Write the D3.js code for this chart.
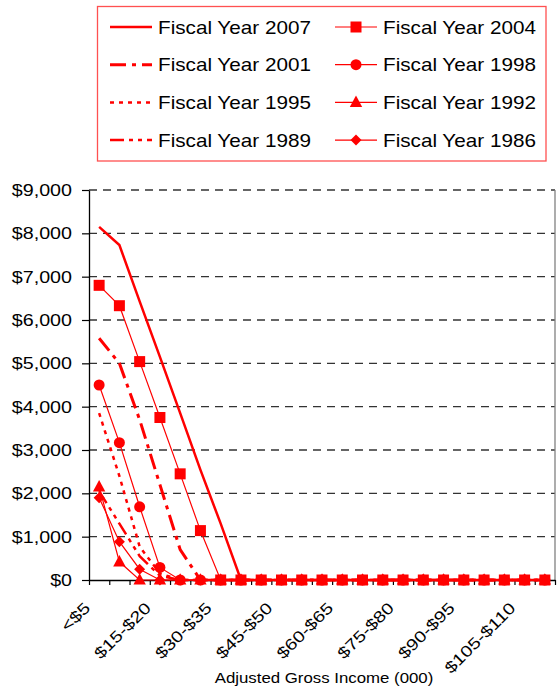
<!DOCTYPE html>
<html>
<head>
<meta charset="utf-8">
<script src="https://cdn.jsdelivr.net/npm/d3@7"></script>
<style>
  html, body { margin: 0; padding: 0; background: #fff; }
  svg { display: block; }
  text { font-family: "Liberation Sans", Arial, sans-serif; fill: #000; }
</style>
</head>
<body>
<svg id="chart" width="559" height="690"></svg>
<script>
// Income brackets (thousands of dollars)
const categories = ["<$5", "$5-$10", "$10-$15", "$15-$20", "$20-$25", "$25-$30", "$30-$35",
  "$35-$40", "$40-$45", "$45-$50", "$50-$55", "$55-$60", "$60-$65", "$65-$70", "$70-$75",
  "$75-$80", "$80-$85", "$85-$90", "$90-$95", "$95-$100", "$100-$105", "$105-$110", ">$110"];

// Maximum benefit by bracket, one array per fiscal year
const fy2007 = [8150, 7730, 6430, 5150, 3850, 2540, 1300, 0, 0, 0, 0, 0, 0, 0, 0, 0, 0, 0, 0, 0, 0, 0, 0];
const fy2004 = [6800, 6330, 5040, 3750, 2450, 1140, 0, 0, 0, 0, 0, 0, 0, 0, 0, 0, 0, 0, 0, 0, 0, 0, 0];
const fy2001 = [5580, 5000, 3700, 2200, 700, 0, 0, 0, 0, 0, 0, 0, 0, 0, 0, 0, 0, 0, 0, 0, 0, 0, 0];
const fy1998 = [4500, 3170, 1690, 290, 0, 0, 0, 0, 0, 0, 0, 0, 0, 0, 0, 0, 0, 0, 0, 0, 0, 0, 0];
const fy1995 = [3850, 2400, 770, 150, 0, 0, 0, 0, 0, 0, 0, 0, 0, 0, 0, 0, 0, 0, 0, 0, 0, 0, 0];
const fy1992 = [2150, 420, 0, 0, 0, 0, 0, 0, 0, 0, 0, 0, 0, 0, 0, 0, 0, 0, 0, 0, 0, 0, 0];
const fy1989 = [2050, 1300, 550, 100, 0, 0, 0, 0, 0, 0, 0, 0, 0, 0, 0, 0, 0, 0, 0, 0, 0, 0, 0];
const fy1986 = [1900, 885, 250, 0, 0, 0, 0, 0, 0, 0, 0, 0, 0, 0, 0, 0, 0, 0, 0, 0, 0, 0, 0];

const seriesNames = ["Fiscal Year 2007", "Fiscal Year 2004", "Fiscal Year 2001", "Fiscal Year 1998",
  "Fiscal Year 1995", "Fiscal Year 1992", "Fiscal Year 1989", "Fiscal Year 1986"];
const seriesValues = [fy2007, fy2004, fy2001, fy1998, fy1995, fy1992, fy1989, fy1986];

const yTicks = [0, 1000, 2000, 3000, 4000, 5000, 6000, 7000, 8000, 9000];
const xTitle = "Adjusted Gross Income (000)";

// Drawing styles for each series (same order as the names above)
const RED = "#ff0000";
const styles = [
  { width: 2.5, dash: null, marker: null },
  { width: 1.2, dash: null, marker: "square" },
  { width: 3, dash: "16,6,4,6", marker: null },
  { width: 1.2, dash: null, marker: "circle" },
  { width: 2.5, dash: "4,5", marker: null },
  { width: 1.2, dash: null, marker: "triangle" },
  { width: 2.5, dash: "14,5,4,5,4,5", marker: null },
  { width: 1.2, dash: null, marker: "diamond" }
];

const svg = d3.select("#chart");
const plot = { left: 89, right: 555, top: 190, bottom: 580 };

const x = d3.scaleBand().domain(categories).range([plot.left, plot.right]).padding(0);
const xEdge = d3.scaleLinear().domain([0, categories.length]).range([plot.left, plot.right]);
const y = d3.scaleLinear().domain([0, 9000]).range([plot.bottom, plot.top]);
const cx = c => x(c) + x.bandwidth() / 2;

const SX = 1.23; // horizontal widening of the axis label face

// Gridlines
svg.append("g")
  .selectAll("line")
  .data(yTicks.filter(d => d > 0))
  .join("line")
  .attr("x1", plot.left).attr("x2", plot.right)
  .attr("y1", d => y(d)).attr("y2", d => y(d))
  .attr("stroke", "#333").attr("stroke-width", 1.3)
  .attr("stroke-dasharray", "8,6");

// Right frame edge
svg.append("line")
  .attr("x1", plot.right).attr("x2", plot.right)
  .attr("y1", plot.top).attr("y2", plot.bottom)
  .attr("stroke", "#808080").attr("stroke-width", 1.3);

// Y axis
const yAxis = svg.append("g")
  .attr("transform", `translate(${plot.left},0)`)
  .call(d3.axisLeft(y).tickValues(yTicks)
    .tickFormat(d => "$" + d3.format(",")(d))
    .tickSize(7).tickSizeOuter(0));
yAxis.select(".domain").attr("stroke", "#000").attr("stroke-width", 1.3);
yAxis.selectAll(".tick line").attr("stroke", "#000").attr("stroke-width", 1.2);
yAxis.selectAll(".tick text")
  .attr("font-size", 16)
  .attr("x", -17 / SX)
  .attr("dy", "0.35em")
  .attr("transform", `scale(${SX},1)`);

// X axis: boundary ticks
const xAxis = svg.append("g")
  .attr("transform", `translate(0,${plot.bottom})`)
  .call(d3.axisBottom(xEdge).tickValues(d3.range(categories.length + 1))
    .tickFormat("").tickSize(5).tickSizeOuter(0));
xAxis.select(".domain").attr("stroke", "#000").attr("stroke-width", 1.3);
xAxis.selectAll(".tick line").attr("stroke", "#000").attr("stroke-width", 1.2);

// X axis: rotated bracket labels, every third bracket
svg.append("g")
  .selectAll("text")
  .data(categories.filter((c, i) => i % 3 === 0))
  .join("text")
  .attr("font-size", 16)
  .attr("text-anchor", "end")
  .attr("transform", c => `translate(${cx(c) - 8},${plot.bottom + 29}) rotate(-45) scale(${SX},1)`)
  .text(c => c);

// Axis title
svg.append("text")
  .attr("font-size", 14.5)
  .attr("text-anchor", "middle")
  .attr("transform", `translate(${(plot.left + plot.right) / 2 + 2},683) scale(1.16,1)`)
  .text(xTitle);

// Marker shapes
function markerPath(kind) {
  if (kind === "square") return d3.symbol(d3.symbolSquare, 121)();
  if (kind === "circle") return d3.symbol(d3.symbolCircle, 95)();
  if (kind === "triangle") return "M0,-6.8L6.2,4.6L-6.2,4.6Z";
  if (kind === "diamond") return "M0,-5.5L5.5,0L0,5.5L-5.5,0Z";
  return null;
}

// Series, drawn from the oldest year up so newer ones sit on top
const line = d3.line().x((d, i) => cx(categories[i])).y(d => y(d));
const order = d3.range(seriesNames.length).reverse();
order.forEach(si => {
  const st = styles[si];
  const vals = seriesValues[si];
  const g = svg.append("g");
  g.append("path")
    .attr("d", line(vals))
    .attr("fill", "none")
    .attr("stroke", RED)
    .attr("stroke-width", st.width)
    .attr("stroke-dasharray", st.dash)
    .attr("stroke-linejoin", "miter");
  if (st.marker) {
    g.selectAll("path.m")
      .data(vals)
      .join("path")
      .attr("class", "m")
      .attr("d", markerPath(st.marker))
      .attr("fill", RED)
      .attr("transform", (d, i) => `translate(${cx(categories[i])},${y(d)})`);
  }
});

// Legend
const legend = svg.append("g");
legend.append("rect")
  .attr("x", 97.5).attr("y", 6.5)
  .attr("width", 448.5).attr("height", 154.5)
  .attr("fill", "#fff")
  .attr("stroke", "#ff5050").attr("stroke-width", 1.3);

const rowY = [27, 64.7, 102.4, 140.1];
const colLineX = [110, 335];
const colTextX = [158, 383];
seriesNames.forEach((name, i) => {
  const col = i % 2, row = Math.floor(i / 2);
  const st = styles[i];
  const yy = rowY[row];
  legend.append("line")
    .attr("x1", colLineX[col]).attr("x2", colLineX[col] + 42)
    .attr("y1", yy).attr("y2", yy)
    .attr("stroke", RED)
    .attr("stroke-width", st.width)
    .attr("stroke-dasharray", st.dash);
  if (st.marker) {
    legend.append("path")
      .attr("d", markerPath(st.marker))
      .attr("fill", RED)
      .attr("transform", `translate(${colLineX[col] + 21},${yy})`);
  }
  legend.append("text")
    .attr("font-size", 18)
    .attr("transform", `translate(${colTextX[col]},${yy + 6.6}) scale(1.15,1)`)
    .text(name);
});
</script>
</body>
</html>
